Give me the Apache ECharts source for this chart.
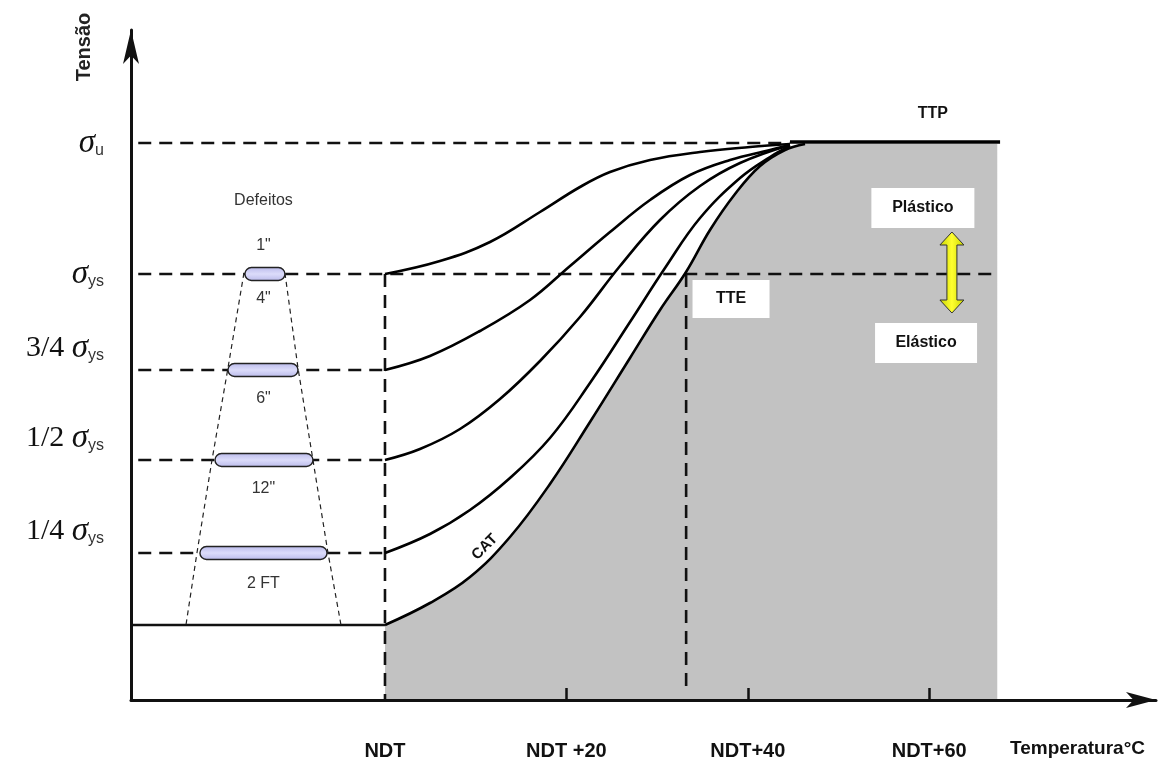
<!DOCTYPE html>
<html>
<head>
<meta charset="utf-8">
<title>Tensão x Temperatura</title>
<script src="https://cdn.jsdelivr.net/npm/echarts@6/dist/echarts.min.js"></script>
<style>
  html, body { margin: 0; padding: 0; background: #fff; }
  #chart { width: 1176px; height: 765px; }
</style>
</head>
<body>
<div id="chart"></div>
<script>
// eixo x: temperatura relativa ao NDT (°C); eixo y: tensão (unidades do desenho)
const tickTemps = [0, 20, 40, 60];
const tickNames = ['NDT', 'NDT +20', 'NDT+40', 'NDT+60'];

const levelFracs = ['1/4', '1/2', '3/4', '', ''];
const levelSubs = ['ys', 'ys', 'ys', 'ys', 'u'];
const levelValues = [14.7, 24.0, 33.0, 42.6, 55.7];
const baseStress = 7.5;
const tteTemp = 33.2;
const ttpTemp = 67.5;

// curvas de parada de trinca para cada tamanho de defeito
const curve1X = [0, 6.06, 11.58, 17.09, 21.5, 24.81, 29.22, 34.73, 40.24, 44.65];
const curve1Y = [42.6, 43.9, 45.8, 48.8, 51.3, 52.8, 54.0, 54.8, 55.3, 55.6];
const curve2X = [0, 4.96, 10.47, 15.99, 20.4, 24.81, 29.22, 33.63, 38.04, 42.45, 44.65];
const curve2Y = [33.0, 34.4, 36.9, 40.0, 43.4, 46.8, 50.0, 52.5, 54.0, 55.0, 55.5];
const curve3X = [0, 3.86, 8.27, 12.68, 17.09, 21.5, 25.91, 30.32, 34.73, 39.14, 44.65];
const curve3Y = [24.0, 25.1, 27.1, 30.1, 33.9, 38.3, 43.4, 48.0, 51.4, 53.7, 55.5];
const curve4X = [0, 4.96, 9.37, 13.78, 18.19, 22.6, 27.01, 30.87, 34.73, 39.14, 42.45, 44.65];
const curve4Y = [14.7, 16.6, 19.0, 22.2, 26.2, 31.7, 37.8, 43.2, 48.2, 52.2, 54.3, 55.4];
const catX = [0, 4.96, 9.37, 13.78, 18.19, 22.6, 27.01, 30.32, 33.19, 35.83, 38.59, 41.35, 44.1, 46.31];
const catY = [7.5, 9.7, 12.3, 16.3, 21.6, 27.8, 34.2, 39.0, 42.8, 47.0, 50.6, 53.4, 55.0, 55.6];

// defeitos (extensão em temperatura do desenho, no nível de tensão)
const defectStart = [-15.44, -17.31, -18.74, -20.4];
const defectEnd = [-11.03, -9.59, -7.94, -6.39];
const defectLevel = [42.6, 33.0, 24.0, 14.7];
const funnelLeftX = [-15.55, -17.31, -19.07, -20.73, -21.94];
const funnelRightX = [-11.03, -9.59, -7.94, -6.28, -4.85];
const funnelY = [42.7, 33.2, 24.0, 14.7, 7.5];

const defectNotes = ['Defeitos', '1"', '4"', '6"', '12"', '2 FT'];
const defectNoteY = [49.9, 45.4, 40.1, 30.1, 21.1, 11.6];
const defectNoteX = -13.4;

const boxNames = ['TTE', 'Plástico', 'Elástico'];
const boxTemps = [38.15, 59.3, 59.65];
const boxStress = [40.1, 49.2, 35.7];

const arrowTemp = 62.5;
const arrowFrom = 38.7;
const arrowTo = 46.8;

const SANS = "'Liberation Sans', Arial, sans-serif";
const SERIF = "'Liberation Serif', 'Times New Roman', serif";
const boxSize = [[77, 38], [103, 40], [102, 40]];
const dash = [13, 8];

const chart = echarts.init(document.getElementById('chart'));

const pairs = (xs, ys) => xs.map((x, i) => [x, ys[i]]);
const plain = { type: 'line', symbol: 'none', silent: true, animation: false };

const dashedSegs = [
    [[-27.2, levelValues[4]], [44.6, levelValues[4]]],
    [[-27.2, levelValues[3]], [ttpTemp, levelValues[3]]],
    [[-27.2, levelValues[2]], [0, levelValues[2]]],
    [[-27.2, levelValues[1]], [0, levelValues[1]]],
    [[-27.2, levelValues[0]], [0, levelValues[0]]],
    [[0, levelValues[3]], [0, 0]],
    [[tteTemp, levelValues[3]], [tteTemp, 1]]
];

const curves = [
    pairs(curve1X, curve1Y),
    pairs(curve2X, curve2Y),
    pairs(curve3X, curve3Y),
    pairs(curve4X, curve4Y),
    pairs(catX, catY)
];

const texts = defectNotes.map((t, i) => ({
    x: defectNoteX, y: defectNoteY[i], text: t, font: '16px ' + SANS, color: '#333', rot: 0
}));
texts.push({ x: 60.4, y: 58.6, text: 'TTP', font: 'bold 16px ' + SANS, color: '#111', rot: 0 });
texts.push({ x: 11.0, y: 15.3, text: 'CAT', font: 'bold 15px ' + SANS, color: '#111', rot: Math.PI / 4 });

const option = {
    animation: false,
    grid: { left: 131, right: 20, top: 30, bottom: 65 },
    xAxis: {
        type: 'value',
        min: -28,
        max: 85,
        z: 10,
        splitLine: { show: false },
        axisLine: {
            onZero: false,
            symbol: ['none', 'arrow'],
            symbolSize: [12, 30],
            lineStyle: { color: '#111', width: 3 }
        },
        axisTick: {
            show: true,
            customValues: [20, 40, 60],
            inside: true,
            length: 12,
            lineStyle: { color: '#111', width: 2.5 }
        },
        axisLabel: {
            customValues: tickTemps,
            margin: 41,
            color: '#111',
            fontFamily: SANS,
            fontWeight: 'bold',
            fontSize: 20,
            formatter: (v) => tickNames[tickTemps.indexOf(v)]
        }
    },
    yAxis: {
        type: 'value',
        min: 0,
        max: 67,
        z: 10,
        splitLine: { show: false },
        axisLine: {
            onZero: false,
            symbol: ['none', 'arrow'],
            symbolSize: [12, 34],
            lineStyle: { color: '#111', width: 3 }
        },
        axisTick: { show: false },
        axisLabel: {
            customValues: levelValues,
            margin: 27,
            formatter: (v) => {
                const i = levelValues.indexOf(v);
                if (i < 0) return '';
                if (levelFracs[i]) {
                    return '{f|' + levelFracs[i] + ' }{s|σ}{sub|' + levelSubs[i] + '}\n{gap| }';
                }
                return '{s|σ}{sub|' + levelSubs[i] + '}';
            },
            rich: {
                f: { fontFamily: SERIF, fontSize: 30, color: '#111', lineHeight: 32 },
                s: { fontFamily: SERIF, fontStyle: 'italic', fontSize: 33, color: '#111', lineHeight: 32 },
                sub: { fontFamily: SANS, fontSize: 16, color: '#333', lineHeight: 14, verticalAlign: 'bottom' },
                gap: { fontSize: 10, lineHeight: 44 }
            }
        }
    },
    graphic: [
        {
            type: 'text',
            x: 84,
            y: 47,
            rotation: Math.PI / 2,
            style: { text: 'Tensão', font: 'bold 20px ' + SANS, fill: '#222', align: 'center', verticalAlign: 'middle' }
        },
        {
            type: 'text',
            x: 1010,
            y: 749,
            style: { text: 'Temperatura°C', font: 'bold 19px ' + SANS, fill: '#111', align: 'left', verticalAlign: 'middle' }
        }
    ],
    series: [
        // região cinza abaixo da CAT
        {
            ...plain,
            data: pairs(catX.concat([ttpTemp]), catY.concat([catY[catY.length - 1]])),
            smooth: 0.4,
            lineStyle: { width: 0, opacity: 0 },
            areaStyle: { color: '#c2c2c2', opacity: 1 },
            z: 1
        },
        ...dashedSegs.map((seg) => ({
            ...plain,
            data: seg,
            lineStyle: { color: '#111', width: 2.6, type: dash },
            z: 2
        })),
        {
            ...plain,
            data: [[-28, baseStress], [0, baseStress]],
            lineStyle: { color: '#111', width: 2.6 },
            z: 2
        },
        {
            ...plain,
            data: pairs(funnelLeftX, funnelY),
            lineStyle: { color: '#222', width: 1.2, type: [5, 4] },
            z: 2
        },
        {
            ...plain,
            data: pairs(funnelRightX, funnelY),
            lineStyle: { color: '#222', width: 1.2, type: [5, 4] },
            z: 2
        },
        ...curves.map((c) => ({
            ...plain,
            data: c,
            smooth: 0.4,
            lineStyle: { color: '#000', width: 2.6 },
            z: 3
        })),
        {
            ...plain,
            data: [[44.65, 55.8], [67.81, 55.8]],
            lineStyle: { color: '#000', width: 3.5 },
            z: 3
        },
        // defeitos
        {
            type: 'custom',
            silent: true,
            animation: false,
            encode: { x: [0, 1], y: 2 },
            data: defectStart.map((s, i) => [s, defectEnd[i], defectLevel[i]]),
            renderItem: (params, api) => {
                const a = api.coord([api.value(0), api.value(2)]);
                const b = api.coord([api.value(1), api.value(2)]);
                const h = 13;
                return {
                    type: 'rect',
                    shape: { x: a[0], y: a[1] - h / 2, width: b[0] - a[0], height: h, r: h / 2 },
                    style: {
                        fill: new echarts.graphic.LinearGradient(0, 0, 0, 1, [
                            { offset: 0, color: '#b9b9ea' },
                            { offset: 0.5, color: '#dcdcfa' },
                            { offset: 1, color: '#b9b9ea' }
                        ]),
                        stroke: '#222',
                        lineWidth: 1.4
                    }
                };
            },
            z: 5
        },
        // seta plástico / elástico
        {
            type: 'custom',
            silent: true,
            animation: false,
            encode: { x: 0, y: [1, 2] },
            data: [[arrowTemp, arrowFrom, arrowTo]],
            renderItem: (params, api) => {
                const top = api.coord([api.value(0), api.value(2)]);
                const bot = api.coord([api.value(0), api.value(1)]);
                const cx = top[0], t = top[1], b = bot[1];
                const hw = 12, sw = 5, hl = 13;
                return {
                    type: 'polygon',
                    shape: {
                        points: [
                            [cx, t], [cx + hw, t + hl], [cx + sw, t + hl], [cx + sw, b - hl], [cx + hw, b - hl],
                            [cx, b], [cx - hw, b - hl], [cx - sw, b - hl], [cx - sw, t + hl], [cx - hw, t + hl]
                        ]
                    },
                    style: {
                        fill: new echarts.graphic.LinearGradient(0, 0, 1, 0, [
                            { offset: 0, color: '#c8d400' },
                            { offset: 0.5, color: '#ffff30' },
                            { offset: 1, color: '#c8d400' }
                        ]),
                        stroke: '#333',
                        lineWidth: 1
                    }
                };
            },
            z: 5
        },
        // caixas de texto
        {
            type: 'custom',
            silent: true,
            animation: false,
            data: pairs(boxTemps, boxStress),
            renderItem: (params, api) => {
                const p = api.coord([api.value(0), api.value(1)]);
                const s = boxSize[params.dataIndex];
                return {
                    type: 'group',
                    children: [
                        {
                            type: 'rect',
                            shape: { x: p[0] - s[0] / 2, y: p[1] - s[1] / 2, width: s[0], height: s[1] },
                            style: { fill: '#fff' }
                        },
                        {
                            type: 'text',
                            x: p[0],
                            y: p[1],
                            style: {
                                text: boxNames[params.dataIndex],
                                font: 'bold 16px ' + SANS,
                                fill: '#111',
                                align: 'center',
                                verticalAlign: 'middle'
                            }
                        }
                    ]
                };
            },
            z: 6
        },
        // textos soltos
        {
            type: 'custom',
            silent: true,
            animation: false,
            data: texts.map((t) => [t.x, t.y]),
            renderItem: (params, api) => {
                const p = api.coord([api.value(0), api.value(1)]);
                const t = texts[params.dataIndex];
                return {
                    type: 'text',
                    x: p[0],
                    y: p[1],
                    rotation: t.rot,
                    style: { text: t.text, font: t.font, fill: t.color, align: 'center', verticalAlign: 'middle' }
                };
            },
            z: 6
        }
    ]
};

chart.setOption(option);
</script>
</body>
</html>
